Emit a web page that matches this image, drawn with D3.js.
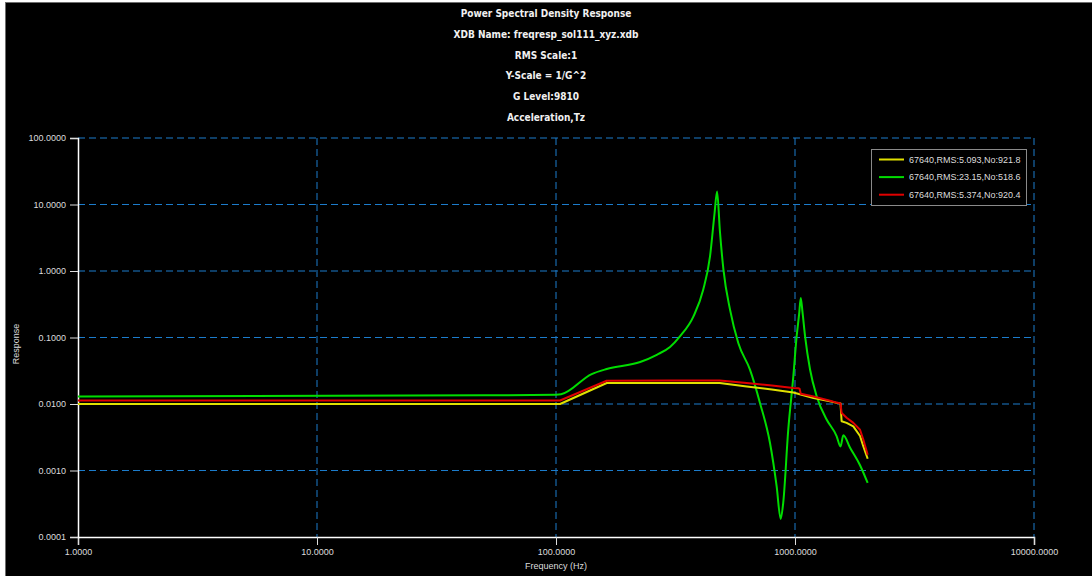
<!DOCTYPE html>
<html>
<head>
<meta charset="utf-8">
<script src="https://cdn.jsdelivr.net/npm/d3@7"></script>
<style>
  body { margin: 0; background: #fff; overflow: hidden; }
  svg { display: block; }
  .tick text { font-family: "Liberation Sans", Arial, sans-serif; font-size: 9px; fill: #dcdcdc; }
</style>
</head>
<body>
<div id="container"></div>
<script>
const titles = ["Power Spectral Density Response", "XDB Name: freqresp_sol111_xyz.xdb", "RMS Scale:1",
  "Y-Scale = 1/G^2", "G Level:9810", "Acceleration,Tz"];

const xTicks = [1, 10, 100, 1000, 10000];
const yTicks = [0.0001, 0.001, 0.01, 0.1, 1, 10, 100];

const seriesNames = ["67640,RMS:5.093,No:921.8", "67640,RMS:23.15,No:518.6", "67640,RMS:5.374,No:920.4"];
const seriesColors = ["#e0e000", "#00dd00", "#e00000"];

const yellowFreq = [1, 100, 104, 163, 300, 484, 628, 800, 984, 1195, 1400, 1493, 1550, 1567, 1644, 1754, 1871, 1932, 2014];
const yellowVal = [0.0100, 0.0100, 0.0100, 0.0207, 0.0207, 0.0207, 0.0184, 0.0165, 0.0149, 0.0123, 0.0110, 0.0104, 0.0102,
  0.0055, 0.0052, 0.0046, 0.0033, 0.0023, 0.0015];

const greenFreq = [1, 50, 100, 105, 141, 163, 225, 264, 300, 330, 376, 413, 441, 460, 472, 485, 502, 535, 579, 648, 714,
  786, 838, 871, 893, 937, 984, 1016, 1040, 1057, 1075, 1102, 1156, 1233, 1358, 1493, 1550, 1593, 1700, 1871, 2014];
const greenVal = [0.0130, 0.0135, 0.0138, 0.0140, 0.0282, 0.0336, 0.0428, 0.055, 0.072, 0.104, 0.208, 0.523, 1.66, 7.0,
  15.7, 4.0, 1.04, 0.26, 0.0826, 0.0328, 0.0103, 0.00259, 0.000577, 0.000187, 0.00033, 0.0041, 0.026, 0.104, 0.22, 0.393,
  0.24, 0.104, 0.033, 0.013, 0.0058, 0.0033, 0.0023, 0.0034, 0.0022, 0.0012, 0.00065];

const redFreq = [1, 100, 104, 163, 300, 484, 628, 800, 984, 1033, 1045, 1057, 1195, 1400, 1493, 1550, 1567, 1644, 1754, 1871, 1932, 2014];
const redVal = [0.0113, 0.0113, 0.0113, 0.0224, 0.0226, 0.0226, 0.0207, 0.0190, 0.0174, 0.0172, 0.0170, 0.0143, 0.0130,
  0.0112, 0.0105, 0.0102, 0.0073, 0.0062, 0.0052, 0.0041, 0.0029, 0.00173];

const w = 1092;
const h = 576;
const plotLeft = 78, plotRight = 1034, plotTop = 138, plotBottom = 537;
const gridColor = "#1c7ccc";

const svg = d3.select("#container")
  .append("svg")
  .attr("width", w)
  .attr("height", h);

// window frame
svg.append("rect")
  .attr("x", 5.5)
  .attr("y", 2.5)
  .attr("width", w)
  .attr("height", h)
  .attr("fill", "#000")
  .attr("stroke", "#6e6e6e");

svg.selectAll(".title")
  .data(titles)
  .enter()
  .append("text")
  .attr("class", "title")
  .attr("x", 546)
  .attr("y", (d, i) => 17 + i * 20.8)
  .attr("text-anchor", "middle")
  .style("font-family", "'DejaVu Sans Condensed', 'DejaVu Sans', sans-serif")
  .style("font-weight", "bold")
  .style("font-size", "10px")
  .style("fill", "#f0f0f0")
  .text((d) => d);

const xScale = d3.scaleLog().domain([1, 10000]).range([plotLeft, plotRight]);
const yScale = d3.scaleLog().domain([0.0001, 100]).range([plotBottom, plotTop]);

// dashed grid
svg.selectAll(".vgrid")
  .data(xTicks.slice(1))
  .enter()
  .append("line")
  .attr("x1", (d) => xScale(d))
  .attr("x2", (d) => xScale(d))
  .attr("y1", plotTop)
  .attr("y2", plotBottom)
  .attr("stroke", gridColor)
  .attr("stroke-dasharray", "7,4");

svg.selectAll(".hgrid")
  .data(yTicks.slice(1))
  .enter()
  .append("line")
  .attr("x1", plotLeft)
  .attr("x2", plotRight)
  .attr("y1", (d) => yScale(d))
  .attr("y2", (d) => yScale(d))
  .attr("stroke", gridColor)
  .attr("stroke-dasharray", "7,4");

const fmt = d3.format(".4f");

const xAxis = d3.axisBottom(xScale).tickValues(xTicks).tickFormat(fmt).tickSizeOuter(0).tickSize(8).tickPadding(4);
const gx = svg.append("g")
  .attr("transform", "translate(0, " + plotBottom + ")")
  .call(xAxis);

const yAxis = d3.axisLeft(yScale).tickValues(yTicks).tickFormat(fmt).tickSizeOuter(0).tickSize(8).tickPadding(4);
const gy = svg.append("g")
  .attr("transform", "translate(" + plotLeft + ", 0)")
  .call(yAxis);

[gx, gy].forEach((g) => {
  g.select(".domain").attr("stroke", "#fff").attr("stroke-width", 1.5);
  g.selectAll(".tick line").attr("stroke", "#ddd");
});

svg.append("text")
  .attr("x", 556)
  .attr("y", 569)
  .attr("text-anchor", "middle")
  .style("font-family", "'Liberation Sans', sans-serif")
  .style("font-size", "9px")
  .style("fill", "#dcdcdc")
  .text("Frequency (Hz)");

svg.append("text")
  .attr("transform", "translate(19, 344) rotate(-90)")
  .attr("text-anchor", "middle")
  .style("font-family", "'Liberation Sans', sans-serif")
  .style("font-size", "9px")
  .style("fill", "#dcdcdc")
  .text("Response");

const lineSmooth = d3.line()
  .x((d) => xScale(d[0]))
  .y((d) => yScale(d[1]))
  .curve(d3.curveMonotoneX);

const lineStraight = d3.line()
  .x((d) => xScale(d[0]))
  .y((d) => yScale(d[1]));

const series = [
  d3.zip(yellowFreq, yellowVal),
  d3.zip(greenFreq, greenVal),
  d3.zip(redFreq, redVal)
];

// draw green first, then yellow, red on top
[1, 0, 2].forEach((i) => {
  svg.append("path")
    .datum(series[i])
    .attr("d", i == 1 ? lineSmooth : lineStraight)
    .attr("fill", "none")
    .attr("stroke", seriesColors[i])
    .attr("stroke-width", 2)
    .attr("stroke-linejoin", "round");
});

const legend = svg.append("g");
legend.append("rect")
  .attr("x", 871.5)
  .attr("y", 149.5)
  .attr("width", 155)
  .attr("height", 56)
  .attr("fill", "#000")
  .attr("stroke", "#8a8a8a");

seriesNames.forEach((name, i) => {
  const ly = 159.5 + i * 17.6;
  legend.append("line")
    .attr("x1", 879)
    .attr("x2", 904)
    .attr("y1", ly)
    .attr("y2", ly)
    .attr("stroke", seriesColors[i])
    .attr("stroke-width", 2);
  legend.append("text")
    .attr("x", 909)
    .attr("y", ly + 3)
    .style("font-family", "'Liberation Sans', sans-serif")
    .style("font-size", "9px")
    .style("fill", "#dcdcdc")
    .text(name);
});
</script>
</body>
</html>
